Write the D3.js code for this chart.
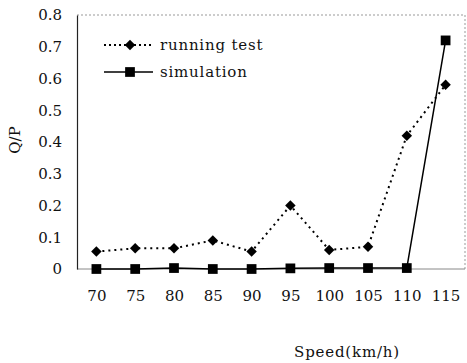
<!DOCTYPE html>
<html>
<head>
<meta charset="utf-8">
<script src="https://cdn.jsdelivr.net/npm/d3@7"></script>
<style>
  body { margin: 0; background: #fff; }
  text { font-family: "DejaVu Serif", "Liberation Serif", serif; fill: #111; }
</style>
</head>
<body>
<div id="chart"></div>
<script>
// chart values
var speeds = [70, 75, 80, 85, 90, 95, 100, 105, 110, 115];
var runningTest = [0.055, 0.065, 0.065, 0.09, 0.055, 0.2, 0.06, 0.07, 0.42, 0.58];
var simulation = [0, 0, 0.003, 0, 0, 0.002, 0.003, 0.003, 0.003, 0.72];
var yTicks = [0, 0.1, 0.2, 0.3, 0.4, 0.5, 0.6, 0.7, 0.8];

var width = 467, height = 363;
var padL = 77, padR = 465, padT = 15, padB = 269;

var svg = d3.select("#chart")
  .append("svg")
  .attr("width", width).attr("height", height);

var x = d3.scalePoint().domain(speeds).range([padL, padR]).padding(0.5);
var y = d3.scaleLinear().domain([0, 0.8]).range([padB, padT]);

// dotted frame on top and right
svg.append("path")
  .attr("d", "M" + padL + "," + padT + "H" + padR + "V" + padB)
  .attr("fill", "none")
  .attr("stroke", "#999")
  .attr("stroke-width", 1)
  .attr("stroke-dasharray", "2,2");

// bottom axis (grey, sim line covers most of it)
svg.append("line")
  .attr("x1", padL).attr("x2", padR)
  .attr("y1", padB).attr("y2", padB)
  .attr("stroke", "#888").attr("stroke-width", 1);

// y axis
var yAxis = d3.axisLeft(y).tickValues(yTicks).tickSize(0).tickPadding(15)
  .tickFormat(function(d) { return d === 0 ? "0" : d3.format(".1f")(d); });
var gy = svg.append("g").attr("transform", "translate(" + padL + ",0)").call(yAxis);
gy.select(".domain").attr("stroke", "#222").attr("stroke-width", 1.2);
gy.selectAll("text").style("font-size", "15px").style("font-family", "DejaVu Serif, serif").attr("fill", "#111");

// x axis labels
var xAxis = d3.axisBottom(x).tickSize(0).tickPadding(21);
var gx = svg.append("g").attr("transform", "translate(0," + padB + ")").call(xAxis);
gx.select(".domain").remove();
gx.selectAll("text").style("font-size", "15px").style("font-family", "DejaVu Serif, serif").attr("fill", "#111");

// axis titles
svg.append("text")
  .attr("x", 347).attr("y", 357)
  .attr("text-anchor", "middle")
  .style("font-size", "15px")
  .style("letter-spacing", "0.8px")
  .text("Speed(km/h)");

svg.append("text")
  .attr("transform", "translate(20,140) rotate(-90)")
  .attr("text-anchor", "middle")
  .style("font-size", "15px")
  .text("Q/P");

var line = d3.line()
  .x(function(d, i) { return x(speeds[i]); })
  .y(function(d) { return y(d); });

// simulation line
svg.append("path")
  .datum(simulation)
  .attr("d", line)
  .attr("fill", "none")
  .attr("stroke", "#000")
  .attr("stroke-width", 1.5);

// running test line (dotted)
svg.append("path")
  .datum(runningTest)
  .attr("d", line)
  .attr("fill", "none")
  .attr("stroke", "#000")
  .attr("stroke-width", 2)
  .attr("stroke-dasharray", "2,4");

var diamond = d3.symbol().type(d3.symbolDiamond2).size(70);
var square = d3.symbol().type(d3.symbolSquare).size(95);

svg.selectAll(".sq")
  .data(simulation)
  .enter().append("path")
  .attr("class", "sq")
  .attr("d", square)
  .attr("transform", function(d, i) { return "translate(" + x(speeds[i]) + "," + y(d) + ")"; })
  .attr("fill", "#000");

svg.selectAll(".dm")
  .data(runningTest)
  .enter().append("path")
  .attr("class", "dm")
  .attr("d", diamond)
  .attr("transform", function(d, i) { return "translate(" + x(speeds[i]) + "," + y(d) + ")"; })
  .attr("fill", "#000");

// legend
var legend = svg.append("g");
legend.append("line")
  .attr("x1", 104).attr("x2", 153).attr("y1", 45).attr("y2", 45)
  .attr("stroke", "#000").attr("stroke-width", 2).attr("stroke-dasharray", "2,3");
legend.append("path")
  .attr("d", diamond)
  .attr("transform", "translate(130,45)")
  .attr("fill", "#000");
legend.append("text")
  .attr("x", 160).attr("y", 50)
  .style("font-size", "15px")
  .style("letter-spacing", "0.8px")
  .text("running test");

legend.append("line")
  .attr("x1", 104).attr("x2", 153).attr("y1", 72).attr("y2", 72)
  .attr("stroke", "#000").attr("stroke-width", 1.5);
legend.append("path")
  .attr("d", square)
  .attr("transform", "translate(130,72)")
  .attr("fill", "#000");
legend.append("text")
  .attr("x", 160).attr("y", 77)
  .style("font-size", "15px")
  .style("letter-spacing", "0.8px")
  .text("simulation");
</script>
</body>
</html>
